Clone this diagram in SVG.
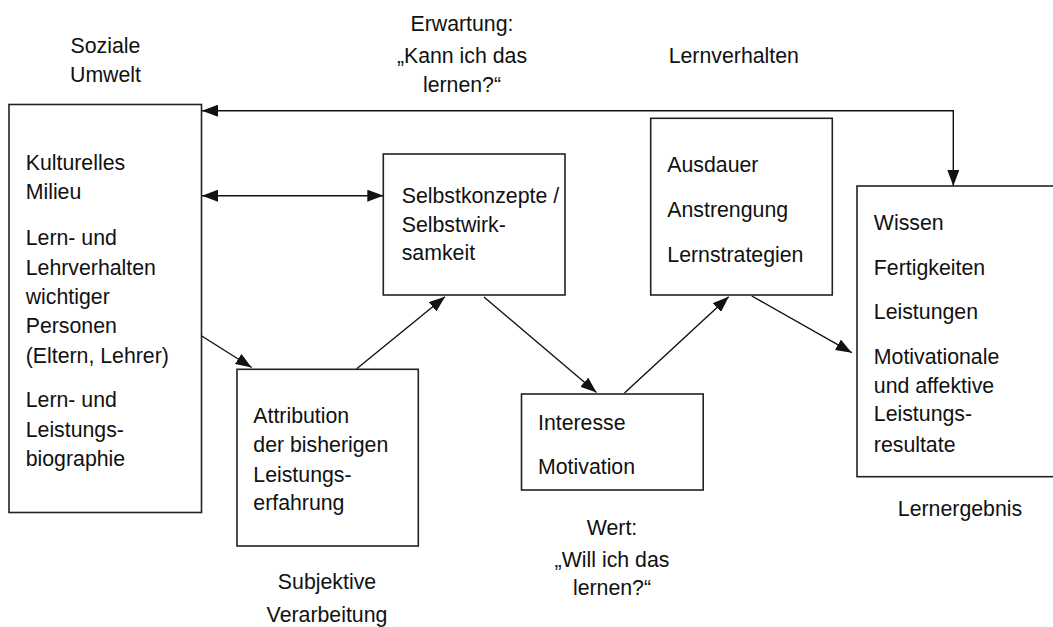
<svg xmlns="http://www.w3.org/2000/svg" width="1053" height="627" viewBox="0 0 1053 627">
<style>
text{font-family:"Liberation Sans",Arial,sans-serif;font-size:21.3px;fill:#111}
.c{text-anchor:middle}
.box{fill:#fff;stroke:#222;stroke-width:1.6}
.ln{fill:none;stroke:#111;stroke-width:1.4}
</style>
<defs>
<marker id="ah" markerUnits="userSpaceOnUse" markerWidth="16" markerHeight="12" viewBox="0 0 16 12" refX="16" refY="6" orient="auto-start-reverse">
<path d="M0,0 L16,6 L0,12 z" fill="#111"/>
</marker>
</defs>
<g id="labels">
<text class="c" x="105.5" y="52.5">Soziale</text>
<text class="c" x="105.5" y="81.7">Umwelt</text>
<text class="c" x="462" y="31">Erwartung:</text>
<text class="c" x="462" y="63">„Kann ich das</text>
<text class="c" x="462" y="91.7">lernen?“</text>
<text class="c" x="733.8" y="63.3">Lernverhalten</text>
<text class="c" x="327" y="589.3">Subjektive</text>
<text class="c" x="327" y="622">Verarbeitung</text>
<text class="c" x="612" y="535">Wert:</text>
<text class="c" x="612" y="566.7">„Will ich das</text>
<text class="c" x="612" y="595">lernen?“</text>
<text class="c" x="960" y="516">Lernergebnis</text>
</g>
<g id="node-umwelt">
<rect class="box" x="9" y="104.5" width="192.5" height="408"/>
<text x="25.7" y="170">Kulturelles</text>
<text x="25.7" y="199.3">Milieu</text>
<text x="25.7" y="245">Lern- und</text>
<text x="25.7" y="274.5">Lehrverhalten</text>
<text x="25.7" y="304">wichtiger</text>
<text x="25.7" y="333">Personen</text>
<text x="25.7" y="362.7">(Eltern, Lehrer)</text>
<text x="25.7" y="406.5">Lern- und</text>
<text x="25.7" y="436.5">Leistungs-</text>
<text x="25.7" y="465.5">biographie</text>
</g>
<g id="node-selbstkonzept">
<rect class="box" x="383.3" y="154" width="181.7" height="141"/>
<text x="401.7" y="203">Selbstkonzepte /</text>
<text x="401.7" y="231.7">Selbstwirk-</text>
<text x="401.7" y="260">samkeit</text>
</g>
<g id="node-attribution">
<rect class="box" x="237" y="369.3" width="181.3" height="176.7"/>
<text x="253.3" y="423.3">Attribution</text>
<text x="253.3" y="451.7">der bisherigen</text>
<text x="253.3" y="481.5">Leistungs-</text>
<text x="253.3" y="510">erfahrung</text>
</g>
<g id="node-interesse">
<rect class="box" x="521.5" y="394" width="181.7" height="96"/>
<text x="538" y="430">Interesse</text>
<text x="538" y="474.3">Motivation</text>
</g>
<g id="node-lernverhalten">
<rect class="box" x="650.7" y="118.3" width="181.6" height="176.7"/>
<text x="667.3" y="171.7">Ausdauer</text>
<text x="667.3" y="216.5">Anstrengung</text>
<text x="667.3" y="261.7">Lernstrategien</text>
</g>
<g id="node-lernergebnis">
<rect class="box" x="857" y="186" width="220" height="290.7"/>
<text x="873.8" y="230">Wissen</text>
<text x="873.8" y="275">Fertigkeiten</text>
<text x="873.8" y="318.5">Leistungen</text>
<text x="873.8" y="364.3">Motivationale</text>
<text x="873.8" y="393">und affektive</text>
<text x="873.8" y="420.5">Leistungs-</text>
<text x="873.8" y="451.7">resultate</text>
</g>
<g id="connectors">
<path class="ln" d="M953.3,186 V110.7 H202" marker-start="url(#ah)" marker-end="url(#ah)"/>
<path class="ln" d="M202,195.7 H383.3" marker-start="url(#ah)" marker-end="url(#ah)"/>
<path class="ln" d="M201.7,336 L251.7,367.5" marker-end="url(#ah)"/>
<path class="ln" d="M356.7,368.8 L445,296.7" marker-end="url(#ah)"/>
<path class="ln" d="M484,297 L596.5,392.5" marker-end="url(#ah)"/>
<path class="ln" d="M624.5,393 L728.7,296.7" marker-end="url(#ah)"/>
<path class="ln" d="M751.8,296 L851.8,352.7" marker-end="url(#ah)"/>
</g>
</svg>
